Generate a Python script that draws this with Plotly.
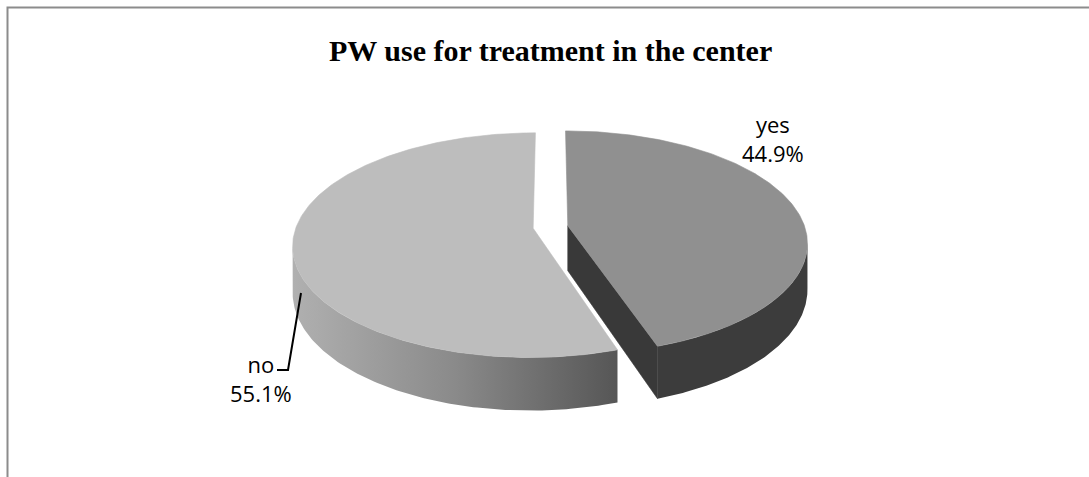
import numpy as np
import plotly.graph_objects as go

# Survey answers and their shares (%)
labels = ["yes", "no"]
values = [44.9, 55.1]

title_text = "PW use for treatment in the center"

# Slice styling: top face, outer wall, cut wall
top_colors = ["#909090", "#bdbdbd"]
side_fills = [
    dict(color="#3c3c3c"),
    dict(gradient=[[0.0, "#b0b0b0"], [0.5, "#8a8a8a"], [1.0, "#565656"]]),
]
cut_colors = ["#393939", "#6a6a6a"]

# Pseudo-3D projection of the pie disc (pixel space)
CX, CY = 550.5, 227.0      # centre of the top face
RX, RY = 237.0, 109.4      # horizontal / depth radii
K = 0.15                   # perspective strength (far side shrinks)
H = 45.0                   # thickness of the disc
EXPLODE = 0.074            # radial offset of every slice
START = 90.0               # first slice begins at 12 o'clock, clockwise


def proj(X, Z, depth=0.0):
    s = 1.0 / (1.0 + K * np.asarray(Z))
    return CX + RX * np.asarray(X) * s, CY - RY * np.asarray(Z) * s + H * s * depth


def arc(ox, oz, a_from, a_to, depth=0.0, n=120):
    t = np.radians(np.linspace(a_from, a_to, n))
    return proj(ox + np.cos(t), oz + np.sin(t), depth)


fig = go.Figure()
silhouette = np.degrees(np.arcsin(K))

total = sum(values)
cum = 0.0
slices = []
for lab, val in zip(labels, values):
    a0 = START - cum / total * 360.0
    a1 = START - (cum + val) / total * 360.0
    mid = np.radians((a0 + a1) / 2.0)
    slices.append((lab, val, a0, a1, EXPLODE * np.cos(mid), EXPLODE * np.sin(mid)))
    cum += val

# draw the slice nearer to the left/front first, then the other one
order = sorted(range(len(slices)), key=lambda i: -abs(slices[i][2] - slices[i][3]))
for i in order:
    lab, val, a0, a1, ox, oz = slices[i]

    # outer wall (front-facing part of the rim)
    lo = max(a1, -180.0 + silhouette)
    hi = min(a0, -silhouette)
    if hi > lo:
        xt, yt = arc(ox, oz, hi, lo, 0.0)
        xb, yb = arc(ox, oz, lo, hi, 1.0)
        xs = np.concatenate([xt, xb, xt[:1]])
        ys = np.concatenate([yt, yb, yt[:1]])
        sf = side_fills[i]
        kw = {}
        if "gradient" in sf:
            kw["fillgradient"] = dict(type="horizontal", colorscale=sf["gradient"])
            kw["fillcolor"] = sf["gradient"][1][1]
        else:
            kw["fillcolor"] = sf["color"]
        fig.add_trace(go.Scatter(x=xs, y=ys, mode="lines", fill="toself",
                                 line=dict(width=0), hoverinfo="skip", **kw))

    # cut walls that face the viewer
    for ang, normal in ((a1, a1 - 90.0), (a0, a0 + 90.0)):
        if np.sin(np.radians(normal)) < -0.05:
            t = np.radians(ang)
            pts = [(ox, oz, 0.0), (ox + np.cos(t), oz + np.sin(t), 0.0),
                   (ox + np.cos(t), oz + np.sin(t), 1.0), (ox, oz, 1.0), (ox, oz, 0.0)]
            wx, wy = zip(*[proj(p[0], p[1], p[2]) for p in pts])
            fig.add_trace(go.Scatter(x=list(wx), y=list(wy), mode="lines", fill="toself",
                                     fillcolor=cut_colors[i], line=dict(width=0.6, color=cut_colors[i]),
                                     hoverinfo="skip"))

    # top face
    cx0, cy0 = proj(ox, oz, 0.0)
    xa, ya = arc(ox, oz, a0, a1, 0.0, n=240)
    fig.add_trace(go.Scatter(x=np.concatenate([[cx0], xa, [cx0]]),
                             y=np.concatenate([[cy0], ya, [cy0]]),
                             mode="lines", fill="toself", fillcolor=top_colors[i],
                             line=dict(width=0.6, color=top_colors[i]),
                             hoverinfo="text", text=f"{lab}: {val:.1f}%"))

# data labels
label_pos = {"yes": (773, 138), "no": (261, 378)}
for lab, val in zip(labels, values):
    x, y = label_pos[lab]
    fig.add_annotation(x=x, y=y, xref="x", yref="y", text=f"{lab}<br>{val:.1f}%",
                       showarrow=False, align="center", xanchor="center", yanchor="middle",
                       font=dict(family="Open Sans, Noto Sans, sans-serif", size=22, color="#000000"))

# leader line for the "no" label
fig.add_shape(type="path", path="M 301,293 L 288,370 L 277,370", xref="x", yref="y",
              line=dict(color="#000000", width=2))

# title
fig.add_annotation(x=550, y=50, xref="x", yref="y", text=f"<b>{title_text}</b>",
                   showarrow=False, xanchor="center", yanchor="middle",
                   font=dict(family="Liberation Serif, Times New Roman, serif", size=30, color="#000000"))

# chart frame
fig.add_shape(type="rect", x0=7.5, y0=7.5, x1=1100, y1=490, xref="x", yref="y",
              line=dict(color="#8c8c8c", width=2), fillcolor="rgba(0,0,0,0)", layer="below")

fig.update_layout(
    width=1089, height=477,
    margin=dict(l=0, r=0, t=0, b=0),
    paper_bgcolor="#ffffff", plot_bgcolor="#ffffff",
    showlegend=False,
    xaxis=dict(range=[0, 1089], visible=False, fixedrange=True),
    yaxis=dict(range=[477, 0], visible=False, fixedrange=True),
)

fig.write_html("out.html")
